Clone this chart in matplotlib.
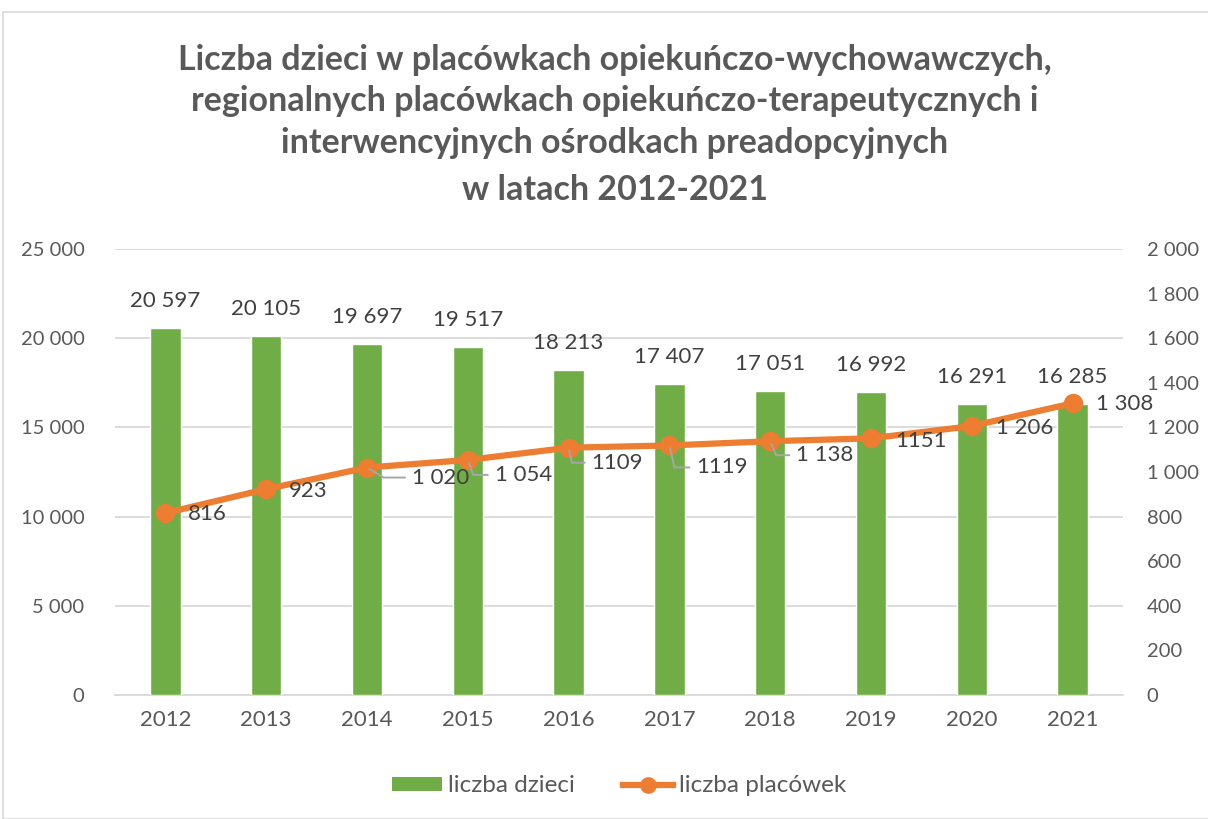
import matplotlib.pyplot as plt
from matplotlib.lines import Line2D
from matplotlib.patches import Patch

plt.rcParams['font.family'] = ['Lato', 'DejaVu Sans']

years = ['2012', '2013', '2014', '2015', '2016', '2017', '2018', '2019', '2020', '2021']
dzieci = [20597, 20105, 19697, 19517, 18213, 17407, 17051, 16992, 16291, 16285]
placowki = [816, 923, 1020, 1054, 1109, 1119, 1138, 1151, 1206, 1308]
dzieci_labels = ['20 597', '20 105', '19 697', '19 517', '18 213',
                 '17 407', '17 051', '16 992', '16 291', '16 285']
placowki_labels = ['816', '923', '1 020', '1 054', '1109',
                   '1119', '1 138', '1151', '1 206', '1 308']
left_ticks = [0, 5000, 10000, 15000, 20000, 25000]
left_ticklabels = ['0', '5 000', '10 000', '15 000', '20 000', '25 000']
right_ticks = [0, 200, 400, 600, 800, 1000, 1200, 1400, 1600, 1800, 2000]
right_ticklabels = ['0', '200', '400', '600', '800', '1 000', '1 200',
                    '1 400', '1 600', '1 800', '2 000']

# label offsets in pixels (dx right, dy down) and leader angle (None = no leader)
lbl_off = [(22, 1), (23, 2), (45, 10), (27, 15), (23, 15),
           (27, 22), (26, 14), (24, 3), (24, 2), (23, 1)]
leader_ang = [None, None, -31, -70, -78, -77, -67, None, None, None]

GREEN = '#70AD47'
ORANGE = '#ED7D31'
AXTXT = '#595959'
LBL = '#404040'
GRID = '#D9D9D9'

fig = plt.figure(figsize=(12.08, 8.19), dpi=100)
ax = fig.add_axes([115 / 1208, 1 - 695 / 819, (1123 - 115) / 1208, (695 - 249) / 819])
ax2 = ax.twinx()

# outer chart border
fig.patches.append(plt.Rectangle((3 / 1208, 0), 1.2, (819 - 12) / 819, transform=fig.transFigure,
                                 fill=False, edgecolor='#D9D9D9', lw=1.2))

x = list(range(len(years)))
ax.bar(x, dzieci, width=0.3, color=GREEN, edgecolor='white', linewidth=1, zorder=3)
ax.set_ylim(0, 25000)
ax.set_xlim(-0.5, len(years) - 0.5)
ax.set_yticks(left_ticks)
ax.set_yticklabels(left_ticklabels)
ax.set_xticks(x)
ax.set_xticklabels(years)
ax.grid(axis='y', color=GRID, lw=1.3, zorder=0)
ax.set_axisbelow(True)
for s in ['top', 'left', 'right']:
    ax.spines[s].set_visible(False)
ax.spines['bottom'].set_color(GRID)
ax.spines['bottom'].set_linewidth(1.3)
ax.tick_params(axis='both', length=0, labelcolor=AXTXT)
ax.tick_params(axis='y', pad=22, labelsize=14.5)
ax.tick_params(axis='x', pad=11, labelsize=16)

for xi, v, t in zip(x, dzieci, dzieci_labels):
    ax.annotate(t, (xi, v), xytext=(0, 27 * 0.72), textcoords='offset points',
                ha='center', va='center', fontsize=16, color=LBL)

ax2.plot(x, placowki, color=ORANGE, lw=4.5, marker='o', markersize=13, zorder=5)
ax2.set_ylim(0, 2000)
ax2.set_yticks(right_ticks)
ax2.set_yticklabels(right_ticklabels)
for s in ['top', 'left', 'right', 'bottom']:
    ax2.spines[s].set_visible(False)
ax2.tick_params(axis='y', length=0, labelsize=14.5, labelcolor=AXTXT, pad=17)

for xi, v, t, (dx, dy), ang in zip(x, placowki, placowki_labels, lbl_off, leader_ang):
    kw = {}
    if ang is not None:
        kw['arrowprops'] = dict(arrowstyle='-', color='#A6A6A6', lw=1.4, shrinkA=3, shrinkB=2,
                                relpos=(0, 0.5),
                                connectionstyle=f'angle,angleA=0,angleB={ang},rad=0')
    ax2.annotate(t, (xi, v), xytext=(dx * 0.72, -dy * 0.72), textcoords='offset points',
                 ha='left', va='center', fontsize=16, color=LBL, zorder=6, **kw)

title_lines = ['Liczba dzieci w placówkach opiekuńczo-wychowawczych,',
               'regionalnych placówkach opiekuńczo-terapeutycznych i',
               'interwencyjnych ośrodkach preadopcyjnych',
               'w latach 2012-2021']
title_y = [60, 101, 143, 190]
for t, yy in zip(title_lines, title_y):
    fig.text(615 / 1208, 1 - yy / 819, t, ha='center', va='center', fontsize=24.5,
             fontweight='bold', color=AXTXT)

handles = [Patch(facecolor=GREEN, edgecolor='none'),
           Line2D([], [], color=ORANGE, lw=4.5, marker='o', markersize=11)]
fig.legend(handles, ['liczba dzieci', 'liczba placówek'], loc='center',
           bbox_to_anchor=(619 / 1208, 1 - 786 / 819), ncol=2, frameon=False,
           fontsize=17.5, labelcolor=AXTXT, handlelength=2.05, handleheight=0.5,
           handletextpad=0.25, columnspacing=2.0)

fig.savefig('out.png', dpi=100)
